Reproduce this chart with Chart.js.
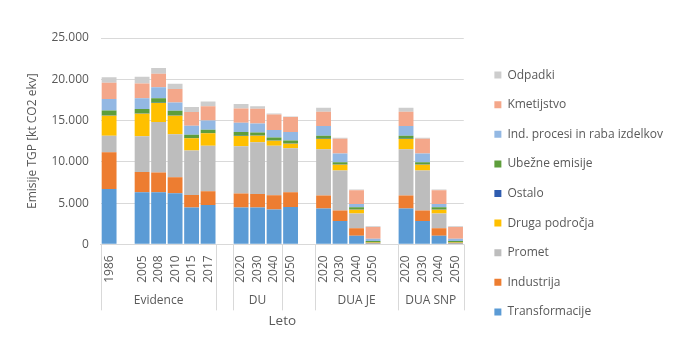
<!DOCTYPE html>
<html>
<head>
<meta charset="utf-8">
<script src="https://cdn.jsdelivr.net/npm/chart.js@4"></script>
<style>
  html, body { margin: 0; padding: 0; background: #fff; }
  #wrap { width: 700px; height: 356px; position: relative; }
</style>
</head>
<body>
<div id="wrap"><canvas id="c" width="700" height="356"></canvas></div>
<script>
// ---- data ----
const categories = ['1986','', '2005','2008','2010','2015','2017','', '2020','2030','2040','2050','', '2020','2030','2040','2050','', '2020','2030','2040','2050'];
const groupNames  = ['Evidence', '', 'DU', '', 'DUA JE', 'DUA SNP'];
const groupStart  = [0, 7, 8, 11, 13, 18];
const groupEnd    = [6, 7, 10, 12, 17, 21];

const transformacije = [6710, null, 6310, 6310, 6190, 4450, 4770, null, 4450, 4450, 4210, 4530, null, 4330, 2830, 1050, 40, null, 4330, 2830, 1050, 40];
const industrija     = [4460, null, 2470, 2390, 1940, 1540, 1660, null, 1700, 1660, 1740, 1780, null, 1580, 1260, 890, 40, null, 1580, 1260, 890, 40];
const promet         = [1980, null, 4330, 6110, 5220, 5380, 5510, null, 5750, 6270, 5990, 5340, null, 5620, 4860, 1790, 80, null, 5620, 4860, 1790, 80];
const drugaPodrocja  = [2440, null, 2720, 2320, 2240, 1470, 1510, null, 1220, 780, 620, 540, null, 1220, 690, 450, 60, null, 1220, 690, 450, 60];
const ostalo         = [30, null, 30, 30, 30, 30, 30, null, 30, 30, 30, 30, null, 30, 30, 30, 20, null, 30, 30, 30, 20];
const ubezne         = [610, null, 530, 530, 570, 400, 400, null, 450, 370, 360, 370, null, 370, 280, 280, 160, null, 370, 280, 280, 160];
const indProcesi     = [1370, null, 1300, 1330, 1010, 1090, 1140, null, 1130, 1090, 890, 1010, null, 1180, 1060, 400, 290, null, 1180, 1060, 400, 290];
const kmetijstvo     = [1980, null, 1810, 1660, 1620, 1660, 1700, null, 1740, 1780, 1900, 1820, null, 1730, 1770, 1670, 1410, null, 1730, 1770, 1670, 1410];
const odpadki        = [660, null, 810, 690, 640, 610, 600, null, 530, 290, 120, 80, null, 490, 130, 80, 90, null, 490, 130, 80, 90];

const yTicks = [0, 5000, 10000, 15000, 20000, 25000];

// ---- chart ----
const FONT = "'Open Sans', sans-serif";
const TXT = '#595959';
const GRID = '#d9d9d9';

function fmt(v) {
  return String(v).replace(/\B(?=(\d{3})+(?!\d))/g, '.');
}

const groupPlugin = {
  id: 'groupAxis',
  afterDraw(chart) {
    const x = chart.scales.x;
    const ctx = chart.ctx;
    const w = (x.right - x.left) / categories.length;
    const base = chart.chartArea.bottom;
    ctx.save();
    ctx.strokeStyle = GRID;
    ctx.lineWidth = 1;
    const bounds = groupStart.concat([categories.length]);
    bounds.forEach(b => {
      const px = Math.round(x.getPixelForValue(Math.min(b, categories.length - 1)) + (b >= categories.length ? w / 2 : -w / 2)) + 0.5;
      ctx.beginPath();
      ctx.moveTo(px, base);
      ctx.lineTo(px, base + 66);
      ctx.stroke();
    });
    ctx.fillStyle = TXT;
    ctx.font = "12px " + FONT;
    ctx.textAlign = 'center';
    ctx.textBaseline = 'middle';
    groupNames.forEach((g, i) => {
      if (!g) return;
      const cx = (x.getPixelForValue(groupStart[i]) + x.getPixelForValue(groupEnd[i])) / 2;
      ctx.fillText(g, cx, base + 56);
    });
    ctx.restore();
  }
};

const series = [
  ['Transformacije', transformacije, '#5B9BD5'],
  ['Industrija', industrija, '#ED7D31'],
  ['Promet', promet, '#BDBDBD'],
  ['Druga področja', drugaPodrocja, '#FFC000'],
  ['Ostalo', ostalo, '#2F5CAF'],
  ['Ubežne emisije', ubezne, '#5E9E3C'],
  ['Ind. procesi in raba izdelkov', indProcesi, '#93B8E3'],
  ['Kmetijstvo', kmetijstvo, '#F4A78A'],
  ['Odpadki', odpadki, '#CDCDCD']
];

new Chart(document.getElementById('c'), {
  type: 'bar',
  data: {
    labels: categories,
    datasets: series.map(s => ({
      label: s[0], data: s[1], backgroundColor: s[2],
      borderWidth: 0, barPercentage: 0.9, categoryPercentage: 1.0, stack: 's'
    }))
  },
  options: {
    responsive: false,
    animation: false,
    devicePixelRatio: 1,
    layout: { padding: { top: 38, bottom: 7, left: 5, right: 27 } },
    plugins: {
      tooltip: { enabled: false },
      legend: {
        position: 'right',
        reverse: true,
        maxWidth: 300,
        labels: {
          boxWidth: 7, boxHeight: 7, padding: 17.6,
          color: TXT, font: { family: FONT, size: 12 }
        }
      }
    },
    scales: {
      x: {
        stacked: true,
        grid: { display: false, drawTicks: false },
        border: { display: true, color: GRID },
        ticks: {
          autoSkip: false, maxRotation: 90, minRotation: 90, padding: 11,
          color: TXT, font: { family: FONT, size: 12 }
        },
        title: {
          display: true, text: 'Leto', color: TXT,
          font: { family: FONT, size: 13.5 },
          padding: { top: 19, bottom: 20 }
        }
      },
      y: {
        stacked: true,
        min: 0, max: 25000,
        afterBuildTicks: s => { s.ticks = yTicks.map(v => ({ value: v })); },
        grid: { color: GRID, drawTicks: false },
        border: { display: false },
        ticks: {
          padding: 12, color: TXT, font: { family: FONT, size: 12 },
          callback: v => fmt(v)
        },
        title: {
          display: true, text: 'Emisije TGP [kt CO2 ekv]', color: TXT,
          font: { family: FONT, size: 12 },
          padding: { top: 20, bottom: 0 }
        }
      },
      spacer: {
        type: 'linear', position: 'right', display: true,
        grid: { display: false, drawTicks: false },
        border: { display: false },
        ticks: { display: false },
        afterFit: s => { s.width = 13; }
      }
    }
  },
  plugins: [groupPlugin]
});
</script>
</body>
</html>
